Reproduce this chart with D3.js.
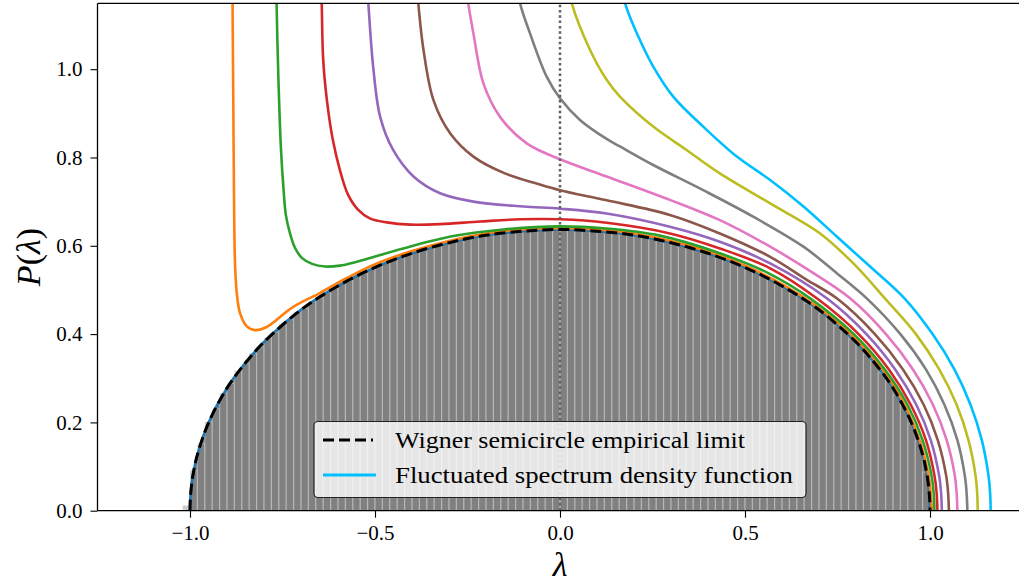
<!DOCTYPE html>
<html>
<head>
<meta charset="utf-8">
<title>Wigner semicircle and fluctuated spectra</title>
<script src="https://cdn.jsdelivr.net/npm/d3@7"></script>
<style>
body { margin: 0; background: #fff; }
#chart svg { display: block; }
.tick text { font-family: "Liberation Serif", "Times New Roman", serif; font-size: 21px; fill: #000; }
.tick line { stroke: #000; stroke-width: 1.1; }
.lbl { font-family: "Liberation Serif", "Times New Roman", serif; fill: #000; }
</style>
</head>
<body>
<div id="chart"></div>
<script>
// ticks and legend text
const xTicks = [-1.0, -0.5, 0.0, 0.5, 1.0];
const yTicks = [0.0, 0.2, 0.4, 0.6, 0.8, 1.0];
const legendLabels = ["Wigner semicircle empirical limit", "Fluctuated spectrum density function"];

// empirical eigenvalue histogram (bin start, width, heights)
const histStart = -1.02;
const histWidth = 0.02;
const histHeights = [
  0.012,
  0.092, 0.152, 0.201, 0.231, 0.266, 0.288, 0.317, 0.333, 0.357, 0.371,
  0.392, 0.404, 0.423, 0.433, 0.451, 0.458, 0.474, 0.482, 0.497, 0.503,
  0.516, 0.521, 0.534, 0.538, 0.549, 0.553, 0.564, 0.567, 0.577, 0.579,
  0.588, 0.590, 0.598, 0.600, 0.607, 0.608, 0.615, 0.615, 0.621, 0.621,
  0.627, 0.626, 0.631, 0.630, 0.635, 0.633, 0.637, 0.635, 0.638, 0.636,
  0.637, 0.635, 0.636, 0.634, 0.635, 0.632, 0.631, 0.628, 0.626, 0.624,
  0.623, 0.618, 0.617, 0.612, 0.610, 0.604, 0.602, 0.595, 0.593, 0.585,
  0.582, 0.573, 0.570, 0.560, 0.557, 0.546, 0.543, 0.531, 0.527, 0.512,
  0.507, 0.492, 0.487, 0.470, 0.465, 0.446, 0.439, 0.419, 0.411, 0.388,
  0.378, 0.354, 0.340, 0.312, 0.295, 0.262, 0.239, 0.197, 0.158, 0.087
];

// semicircle limit [lambda, P]
const wignerLimit = [
  [-1, 0], [-0.999, 0.028], [-0.995, 0.064], [-0.99, 0.090], [-0.98, 0.127],
  [-0.95, 0.199], [-0.9, 0.278], [-0.85, 0.335], [-0.8, 0.382], [-0.7, 0.455],
  [-0.6, 0.509], [-0.5, 0.551], [-0.4, 0.583], [-0.3, 0.607], [-0.2, 0.624],
  [-0.1, 0.633], [0, 0.637], [0.1, 0.633], [0.2, 0.624], [0.3, 0.607],
  [0.4, 0.583], [0.5, 0.551], [0.6, 0.509], [0.7, 0.455], [0.8, 0.382],
  [0.85, 0.335], [0.9, 0.278], [0.95, 0.199], [0.98, 0.127], [0.99, 0.090],
  [0.995, 0.064], [0.999, 0.028], [1, 0]
];

// fluctuated spectrum densities [lambda, P]
const spectrumOrange = [
  [-0.886, 1.3], [-0.885, 1.149], [-0.883, 0.930], [-0.881, 0.704], [-0.878, 0.552],
  [-0.873, 0.488], [-0.865, 0.448], [-0.847, 0.418], [-0.824, 0.409], [-0.793, 0.416],
  [-0.722, 0.461], [-0.649, 0.493], [-0.576, 0.527], [-0.495, 0.560], [-0.4, 0.588],
  [-0.3, 0.611], [-0.2, 0.628], [-0.1, 0.637], [0, 0.640], [0.1, 0.637],
  [0.2, 0.628], [0.3, 0.611], [0.4, 0.587], [0.5, 0.555], [0.6, 0.513],
  [0.7, 0.459], [0.785, 0.40], [0.872, 0.32], [0.931, 0.24], [0.972, 0.16],
  [0.996, 0.08], [1.002, 0.04], [1.005, 0]
];
const spectrumGreen = [
  [-0.769, 1.3], [-0.766, 1.149], [-0.761, 0.976], [-0.754, 0.817], [-0.747, 0.726],
  [-0.741, 0.670], [-0.730, 0.629], [-0.716, 0.595], [-0.697, 0.572], [-0.670, 0.559],
  [-0.635, 0.553], [-0.595, 0.555], [-0.549, 0.564], [-0.424, 0.594], [-0.288, 0.622],
  [-0.153, 0.637], [0, 0.644], [0.126, 0.639], [0.270, 0.623], [0.432, 0.583],
  [0.568, 0.536], [0.676, 0.481], [0.794, 0.40], [0.878, 0.32], [0.939, 0.24],
  [0.980, 0.16], [1.004, 0.08], [1.010, 0.04], [1.012, 0]
];
const spectrumRed = [
  [-0.649, 1.3], [-0.644, 1.149], [-0.640, 1.021], [-0.630, 0.930], [-0.614, 0.840],
  [-0.595, 0.772], [-0.573, 0.716], [-0.546, 0.682], [-0.514, 0.662], [-0.468, 0.653],
  [-0.405, 0.648], [-0.324, 0.649], [-0.216, 0.655], [-0.108, 0.660], [0, 0.660],
  [0.126, 0.652], [0.297, 0.628], [0.432, 0.594], [0.568, 0.549], [0.694, 0.481],
  [0.807, 0.40], [0.889, 0.32], [0.948, 0.24], [0.989, 0.16], [1.012, 0.08],
  [1.018, 0.04], [1.020, 0]
];
const spectrumPurple = [
  [-0.53, 1.3], [-0.518, 1.149], [-0.505, 1.006], [-0.486, 0.892], [-0.451, 0.817],
  [-0.396, 0.757], [-0.324, 0.719], [-0.234, 0.700], [-0.099, 0.689], [0, 0.684],
  [0.126, 0.673], [0.297, 0.643], [0.432, 0.609], [0.568, 0.560], [0.721, 0.481],
  [0.828, 0.40], [0.906, 0.32], [0.963, 0.24], [1.002, 0.16], [1.0245, 0.08],
  [1.030, 0.04], [1.032, 0]
];
const spectrumBrown = [
  [-0.398, 1.3], [-0.383, 1.149], [-0.369, 1.044], [-0.342, 0.930], [-0.297, 0.855],
  [-0.234, 0.802], [-0.149, 0.764], [-0.059, 0.740], [0, 0.726], [0.126, 0.703],
  [0.297, 0.670], [0.432, 0.628], [0.568, 0.575], [0.667, 0.523], [0.748, 0.481],
  [0.851, 0.40], [0.927, 0.32], [0.983, 0.24], [1.021, 0.16], [1.0436, 0.08],
  [1.049, 0.04], [1.051, 0]
];
const spectrumPink = [
  [-0.272, 1.3], [-0.248, 1.149], [-0.234, 1.081], [-0.207, 0.968], [-0.162, 0.892],
  [-0.090, 0.832], [0, 0.796], [0.126, 0.757], [0.297, 0.704], [0.432, 0.658],
  [0.568, 0.598], [0.685, 0.538], [0.784, 0.481], [0.881, 0.40], [0.954, 0.32],
  [1.008, 0.24], [1.045, 0.16], [1.067, 0.08], [1.072, 0.04], [1.074, 0]
];
const spectrumGray = [
  [-0.145, 1.3], [-0.108, 1.149], [-0.081, 1.081], [-0.036, 0.983], [0, 0.934],
  [0.054, 0.885], [0.126, 0.842], [0.162, 0.825], [0.252, 0.783], [0.387, 0.726],
  [0.522, 0.666], [0.658, 0.598], [0.748, 0.538], [0.829, 0.481], [0.920, 0.40],
  [0.989, 0.32], [1.039, 0.24], [1.074, 0.16], [1.094, 0.08], [1.099, 0.04], [1.101, 0]
];
const spectrumOlive = [
  [0.0, 1.3], [0.032, 1.149], [0.081, 1.044], [0.126, 0.976], [0.162, 0.938],
  [0.252, 0.870], [0.342, 0.817], [0.432, 0.764], [0.568, 0.696], [0.703, 0.628],
  [0.793, 0.560], [0.878, 0.481], [0.962, 0.40], [1.025, 0.32], [1.072, 0.24],
  [1.104, 0.16], [1.123, 0.08], [1.1275, 0.04], [1.129, 0]
];
const spectrumCyan = [
  [0.14, 1.3], [0.176, 1.149], [0.216, 1.066], [0.252, 1.006], [0.306, 0.938],
  [0.387, 0.870], [0.478, 0.802], [0.568, 0.749], [0.658, 0.689], [0.748, 0.621],
  [0.838, 0.553], [0.931, 0.481], [1.007, 0.40], [1.066, 0.32], [1.1095, 0.24],
  [1.140, 0.16], [1.158, 0.08], [1.1625, 0.04], [1.164, 0]
];

const spectra = [wignerLimit, spectrumOrange, spectrumGreen, spectrumRed, spectrumPurple,
  spectrumBrown, spectrumPink, spectrumGray, spectrumOlive, spectrumCyan];
const spectrumColors = ["#1f77b4", "#ff7f0e", "#2ca02c", "#d62728", "#9467bd",
  "#8c564b", "#e377c2", "#7f7f7f", "#bcbd22", "#00bfff"];

const W = 1019, H = 586;
const plotLeft = 97.5, plotRight = 1022.5, plotTop = 3.4, plotBottom = 510.7;

const svg = d3.select("#chart").append("svg")
  .attr("width", W).attr("height", H)
  .attr("viewBox", `0 0 ${W} ${H}`);

const x = d3.scaleLinear().domain([-1.25, 1.25]).range([plotLeft, plotRight]);
const y = d3.scaleLinear().domain([0, 1.149]).range([plotBottom, plotTop]);

svg.append("clipPath").attr("id", "plot")
  .append("rect").attr("x", plotLeft).attr("y", plotTop)
  .attr("width", plotRight - plotLeft).attr("height", plotBottom - plotTop);

const plot = svg.append("g").attr("clip-path", "url(#plot)");

const curve = d3.curveCatmullRom.alpha(0.5);
const line = d3.line().x(d => x(d[0])).y(d => y(d[1])).curve(curve);
const area = d3.area().x(d => x(d[0])).y0(y(0)).y1(d => y(d[1])).curve(curve);

// filled limit under the histogram
plot.append("path").datum(wignerLimit)
  .attr("d", area).attr("fill", "#808080");

plot.append("g").selectAll("rect").data(histHeights).join("rect")
  .attr("x", (d, i) => x(histStart + i * histWidth))
  .attr("width", (d, i) => x(histStart + (i + 1) * histWidth) - x(histStart + i * histWidth))
  .attr("y", d => y(d))
  .attr("height", d => y(0) - y(d))
  .attr("fill", "#808080").attr("fill-opacity", 0.4)
  .attr("stroke", "#fff").attr("stroke-opacity", 0.28).attr("stroke-width", 1.2);

plot.append("g").selectAll("path").data(spectra).join("path")
  .attr("d", line)
  .attr("fill", "none")
  .attr("stroke", (d, i) => spectrumColors[i])
  .attr("stroke-width", 2.6);

plot.append("line")
  .attr("x1", x(0)).attr("x2", x(0)).attr("y1", plotBottom).attr("y2", plotTop)
  .attr("stroke", "#606060").attr("stroke-width", 2.5)
  .attr("stroke-dasharray", "2.5,2.8");

plot.append("path").datum(wignerLimit)
  .attr("d", line).attr("fill", "none")
  .attr("stroke", "#000").attr("stroke-width", 3)
  .attr("stroke-dasharray", "11,5");

// axes
const gx = svg.append("g").attr("transform", `translate(0,${plotBottom})`)
  .call(d3.axisBottom(x).tickValues(xTicks).tickFormat(d3.format(".1f"))
    .tickSize(7).tickPadding(7).tickSizeOuter(0));
gx.select(".domain").remove();

const gy = svg.append("g").attr("transform", `translate(${plotLeft},0)`)
  .call(d3.axisLeft(y).tickValues(yTicks).tickFormat(d3.format(".1f"))
    .tickSize(7).tickPadding(8).tickSizeOuter(0));
gy.select(".domain").remove();

const spine = svg.append("g").attr("stroke", "#000").attr("stroke-width", 1.3);
spine.append("line").attr("x1", plotLeft).attr("x2", plotLeft).attr("y1", plotTop).attr("y2", plotBottom);
spine.append("line").attr("x1", plotLeft).attr("x2", plotRight).attr("y1", plotBottom).attr("y2", plotBottom);
spine.append("line").attr("x1", plotLeft).attr("x2", plotRight).attr("y1", plotTop).attr("y2", plotTop);

// axis labels
const yl = svg.append("text").attr("class", "lbl")
  .attr("transform", `translate(40,${(plotTop + plotBottom) / 2}) rotate(-90)`)
  .attr("text-anchor", "middle").attr("font-size", 34);
yl.append("tspan").attr("font-style", "italic").text("P");
yl.append("tspan").text("(");
yl.append("tspan").attr("font-style", "italic").text("λ");
yl.append("tspan").text(")");

svg.append("text").attr("class", "lbl")
  .attr("x", x(0)).attr("y", 576)
  .attr("text-anchor", "middle").attr("font-size", 34)
  .attr("font-style", "italic").text("λ");

// legend
const lg = svg.append("g");
lg.append("rect").attr("x", 314).attr("y", 421.5).attr("width", 492).attr("height", 76)
  .attr("rx", 4).attr("fill", "#fff").attr("fill-opacity", 0.8)
  .attr("stroke", "#222").attr("stroke-width", 1.2);
lg.append("line").attr("x1", 323).attr("x2", 373).attr("y1", 440).attr("y2", 440)
  .attr("stroke", "#000").attr("stroke-width", 3).attr("stroke-dasharray", "11,5");
lg.append("line").attr("x1", 323).attr("x2", 376).attr("y1", 475).attr("y2", 475)
  .attr("stroke", spectrumColors[9]).attr("stroke-width", 3);
lg.selectAll("text.leg").data(legendLabels).join("text")
  .attr("class", "lbl leg")
  .attr("x", 395).attr("y", (d, i) => 448 + i * 35)
  .attr("font-size", 24)
  .attr("textLength", (d, i) => i === 0 ? 350 : 398)
  .attr("lengthAdjust", "spacingAndGlyphs")
  .text(d => d);
</script>
</body>
</html>
